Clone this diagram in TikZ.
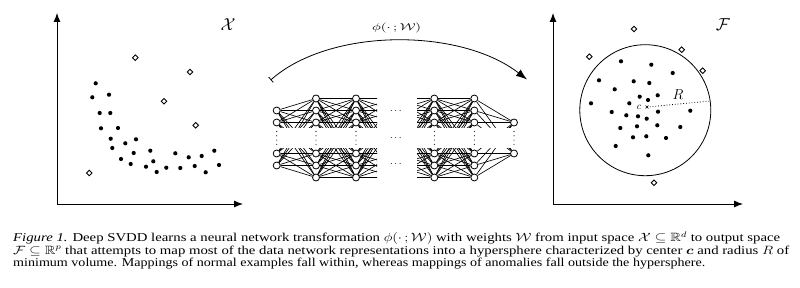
\documentclass[tikz,border=0pt]{standalone}
\usepackage{amsmath,amssymb}
\usepackage{graphicx}
\usepackage{fontspec}
\setmainfont{Liberation Serif}
\usepackage{tikz}
\usetikzlibrary{arrows.meta}
\newcommand{\wide}[1]{\scalebox{1.47}[1]{#1}}
\newcommand{\capline}[2]{\resizebox{#1}{\height}{#2}}

\begin{document}
\begin{tikzpicture}[x=1pt, y=-1pt,
  neuron/.style={draw, circle, fill=white, minimum size=7pt, inner sep=0pt,
                 line width=0.8pt},
  edge/.style={line width=0.65pt},
  axis/.style={line width=0.9pt, {Latex[length=9pt,width=7pt]}-{Latex[length=9pt,width=7pt]}},
  inlier/.style={fill=black},
  outlier/.style={draw, fill=white, line width=0.9pt},
  vdotline/.style={line width=1.1pt, line cap=round, dash pattern=on 0pt off 4.3pt},
  space/.style={font=\fontsize{19}{19}\selectfont},
  capstyle/.style={anchor=base west, inner sep=0pt, font=\fontsize{12}{12.6}\selectfont},
  arr/.style={line width=0.8pt, {Bar[width=7pt]}-{Latex[length=11pt,width=8pt]}}]
\useasboundingbox (0,0) rectangle (800,288);

% input space
\coordinate (lo) at (57,204);
\coordinate (ly) at (57,13);
\coordinate (lx) at (243,204);
\draw[axis] (ly) -- (lo) -- (lx);
\node[space] (X) at (228,25) {$\mathcal{X}$};
\foreach \x/\y in {95.7/83.3, 92.3/97.3, 109/94.7, 99.7/113, 110.3/113, 101/128.3,
    118/128, 110.7/138.7, 112.3/148, 125.3/143.3, 136/139.3, 133.7/153, 121/159,
    130.7/164, 150.3/150.7, 153.3/161.3, 146/166.7, 156.7/172, 166.3/167.7,
    175.3/153.3, 180.3/168, 188.7/157.3, 194.7/166, 201.7/156, 205.7/172.3,
    214.3/150.7, 219/165}
  \fill[inlier] (\x,\y) circle[radius=2.1];
\foreach \x/\y in {135.3/57.7, 190/72, 164/101.3, 195.7/125.3, 89.3/173}
  \draw[outlier] (\x,\y-2.8) -- (\x+2.8,\y) -- (\x,\y+2.8) -- (\x-2.8,\y) -- cycle;

% mapping
\coordinate (arcs) at (270.7,80);
\coordinate (arce) at (527,79.5);
\draw[arr] (arcs) .. controls (330,27.6) and (460,27.6) .. (arce);
\node (phi) at (396.7,28) {\wide{$\phi(\cdot\,;\mathcal{W})$}};

% network
\foreach \y [count=\i] in {110.5,122.5,153.5,165.5}
  \node[neuron] (n1-\i) at (276.7,\y) {};
\foreach \L/\x in {2/316,3/356,4/434.3,5/474.3}
  \foreach \y [count=\i] in {98.5,110.5,122.5,153.5,165.5,177.5}
    \node[neuron] (n\L-\i) at (\x,\y) {};
\foreach \y [count=\i] in {122.5,153.5}
  \node[neuron] (n6-\i) at (514,\y) {};
\foreach \y [count=\i] in {98.5,110.5,122.5,153.5,165.5,177.5}
  \coordinate (v-\i) at (395,\y);

\foreach \i in {1,...,4}
  \foreach \j in {1,...,6}
    \draw[edge] (n1-\i) -- (n2-\j);
\foreach \i in {1,...,6}
  \foreach \j in {1,...,6} {
    \draw[edge] (n2-\i) -- (n3-\j);
    \draw[edge] (n4-\i) -- (n5-\j);
  }
\foreach \i in {1,...,6}
  \foreach \j in {1,2}
    \draw[edge] (n5-\i) -- (n6-\j);
\begin{scope}
  \clip (340,85) rectangle (377,190);
  \foreach \i in {1,...,6}
    \foreach \j in {1,...,6}
      \draw[edge] (n3-\i) -- (v-\j);
\end{scope}
\begin{scope}
  \clip (417,85) rectangle (450,190);
  \foreach \i in {1,...,6}
    \foreach \j in {1,...,6}
      \draw[edge] (v-\i) -- (n4-\j);
\end{scope}
% gap between the two halves of each layer
\fill[white] (270,128.5) rectangle (520,148.5);
\foreach \x in {276.7,316,356,434.3,474.3,514}
  \draw[vdotline] (\x,131.5) -- (\x,146);
\foreach \y [count=\k] in {111.5,138,164.5}
  \node (hd\k) at (396.7,\y) {$\cdots$};

% output space
\coordinate (ro) at (553,204);
\coordinate (ry) at (553,13);
\coordinate (rx) at (743,204);
\draw[axis] (ry) -- (ro) -- (rx);
\node[space] (F) at (723,25) {$\mathcal{F}$};
\node[draw, circle, minimum size=131pt, inner sep=0pt, line width=0.8pt] (sphere) at (645.3,110.2) {};
\foreach \x/\y in {621/61.3, 651.3/64.7, 672.7/73, 599/80.3, 633.7/81.3, 649.3/83,
    614.7/89.3, 639.7/96.7, 648/100, 657.7/95.3, 629.3/103.3, 591/103.3,
    611.7/112, 626.3/115.3, 638/116.3, 646.7/118.7, 658/111.7, 690.3/110.7,
    620.3/128, 637/126.3, 657.3/125.3, 680.3/127, 633/137.3, 646.3/136.3,
    666/138, 615.7/146, 648.3/155.3}
  \fill[inlier] (\x,\y) circle[radius=2.1];
\foreach \x/\y in {634/29, 589.3/56.7, 681.7/49.7, 702.7/70.7, 654/182.7}
  \draw[outlier] (\x,\y-2.8) -- (\x+2.8,\y) -- (\x,\y+2.8) -- (\x-2.8,\y) -- cycle;
\coordinate (cpt) at (647,107);
\draw[line width=0.5pt] (cpt) ++(-1.4,-1.4) -- ++(2.8,2.8) ++(-2.8,0) -- ++(2.8,-2.8);
\draw[line width=0.8pt, dotted] (cpt) -- (sphere.8);
\node (clab) at (639,107.5) {$c$};
\node[font=\fontsize{15}{15}\selectfont] (Rlab) at (678,95) {$R$};

% caption
\node[capstyle] (cap1) at (13,241.7) {\capline{767pt}{\textit{Figure 1.} Deep SVDD
  learns a neural network transformation $\phi(\cdot\,;\mathcal{W})$ with weights
  $\mathcal{W}$ from input space $\mathcal{X}\subseteq\mathbb{R}^d$ to output space}};
\node[capstyle] (cap2) at (13,254.3) {\capline{776pt}{$\mathcal{F}\subseteq\mathbb{R}^p$
  that attempts to map most of the data network representations into a hypersphere
  characterized by center $\boldsymbol{c}$ and radius $R$ of}};
\node[capstyle] (cap3) at (13,266.9) {\capline{692pt}{minimum volume. Mappings of
  normal examples fall within, whereas mappings of anomalies fall outside the
  hypersphere.}};
\end{tikzpicture}
\end{document}
